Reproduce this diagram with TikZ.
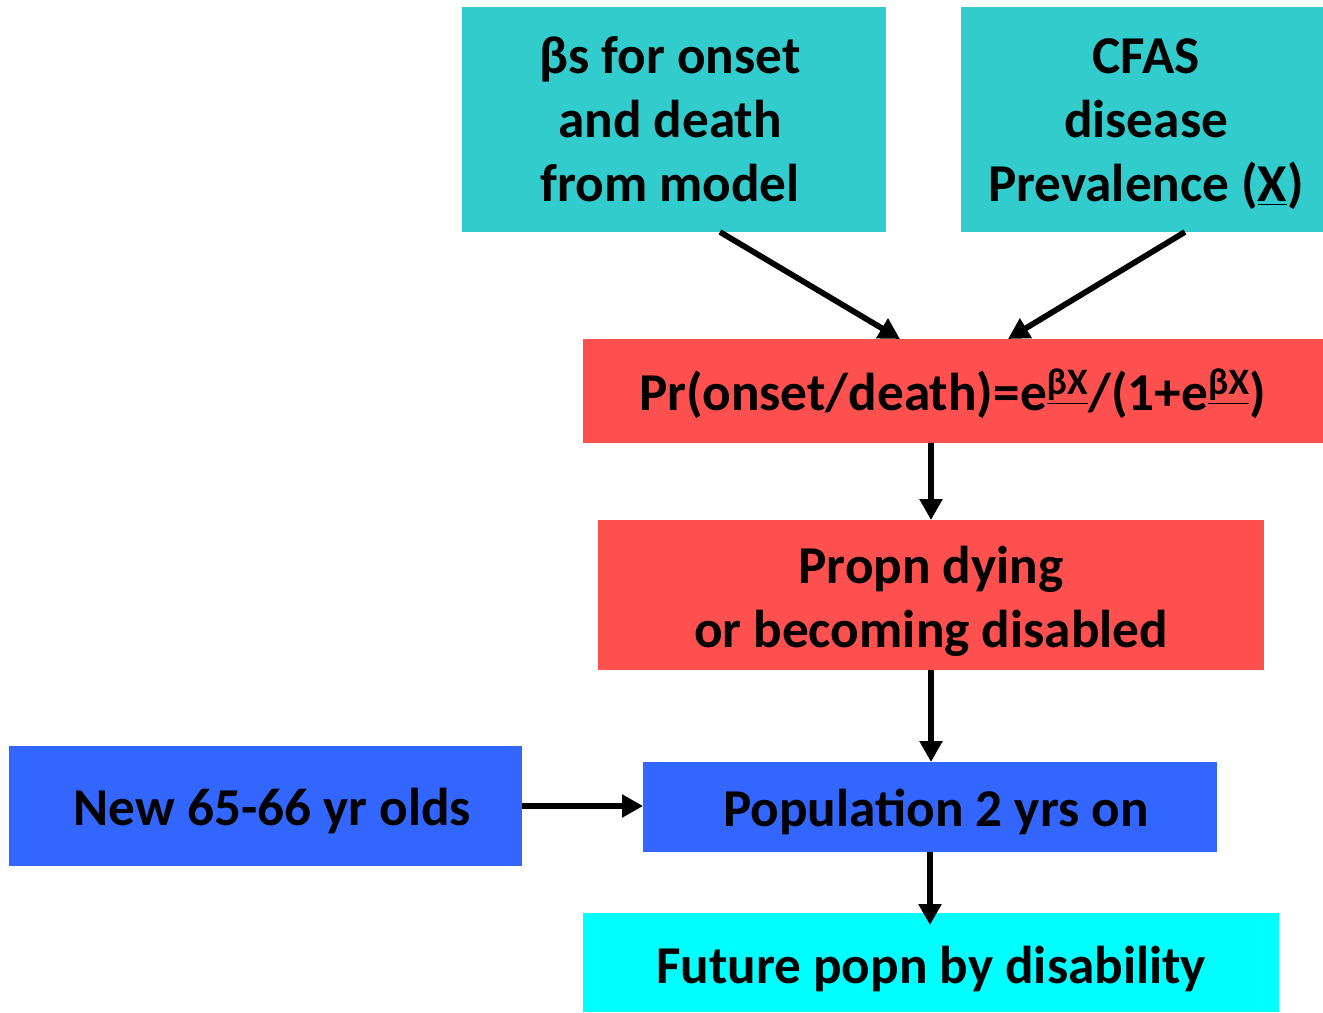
\documentclass[tikz,border=0pt]{standalone}
\usepackage{fontspec}
\setmainfont{Carlito}
\usetikzlibrary{arrows.meta}
\definecolor{tealbox}{HTML}{33CCCC}
\definecolor{redbox}{HTML}{FF5050}
\definecolor{bluebox}{HTML}{3366FF}
\definecolor{cyanbox}{HTML}{00FFFF}
\newcommand{\supul}[1]{\textsuperscript{\setlength{\fboxsep}{0pt}\underline{#1}}}
\tikzset{
  box/.style={inner sep=0pt, outer sep=0pt},
  txt/.style={inner sep=0pt, align=center,
    font=\fontsize{30.3}{36.4}\selectfont\bfseries},
  arr/.style={line width=0.115cm, -{Triangle[length=0.42cm,width=0.44cm]}}
}
\begin{document}
\begin{tikzpicture}[x=0.02cm,y=-0.02cm]
  \useasboundingbox (0,0) rectangle (1323,1013);

  % input boxes
  \node[box, fill=tealbox, minimum width=8.48cm, minimum height=4.5cm] (beta) at (674,119.5) {};
  \node[txt] (beta-t) at ([xshift=-0.08cm]beta.center) {βs for onset\\and death\\from model};
  \node[box, fill=tealbox, minimum width=7.24cm, minimum height=4.5cm] (cfas) at (1142,119.5) {};
  \node[txt] (cfas-t) at ([yshift=-0.1cm,xshift=0.08cm]cfas.center) {CFAS\\disease\\Prevalence (\underline{X})};

  % probability step
  \node[box, fill=redbox, minimum width=14.8cm, minimum height=2.08cm] (prob) at (953,391) {};
  \node[txt] (prob-t) at ([yshift=-0.06cm]prob.center)
    {Pr(onset/death)=e\supul{βX}/(1+e\supul{βX})};
  \node[box, fill=redbox, minimum width=13.32cm, minimum height=3.0cm] (propn) at (931,595) {};
  \node[txt] (propn-t) at ([yshift=-0.12cm]propn.center) {Propn dying\\or becoming disabled};

  % population update
  \node[box, fill=bluebox, minimum width=10.26cm, minimum height=2.4cm] (new) at (265.5,806) {};
  \node[txt] (new-t) at ([yshift=-0.1cm,xshift=0.14cm]new.center) {New 65-66 yr olds};
  \node[box, fill=bluebox, minimum width=11.48cm, minimum height=1.8cm] (pop) at (930,807) {};
  \node[txt] (pop-t) at ([yshift=-0.1cm,xshift=0.12cm]pop.center) {Population 2 yrs on};
  \node[box, fill=cyanbox, minimum width=13.92cm, minimum height=1.98cm] (future) at (931,962.5) {};
  \node[txt] (future-t) at ([yshift=-0.14cm]future.center) {Future popn by disability};

  % connectors
  \draw[arr] ([xshift=0.92cm]beta.south) -- ([xshift=-1.06cm]prob.north);
  \draw[arr] ([xshift=0.86cm]cfas.south) -- ([xshift=1.1cm]prob.north);
  \draw[arr] ([xshift=-0.44cm]prob.south) -- (propn.north);
  \draw[arr] (propn.south) -- (propn.south |- pop.north);
  \draw[arr] (new.east) -- (new.east -| pop.west);
  \draw[arr] (pop.south) -- ([yshift=-0.24cm]pop.south |- future.north);
\end{tikzpicture}
\end{document}
